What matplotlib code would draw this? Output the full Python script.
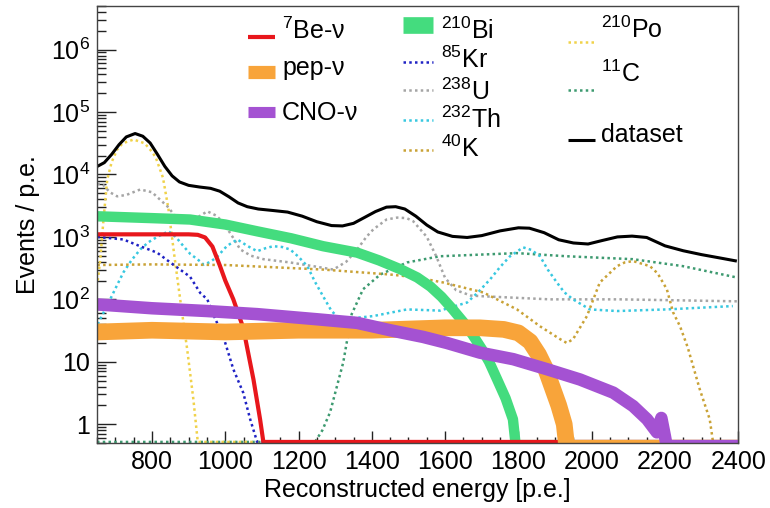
import numpy as np
import matplotlib
matplotlib.use('Agg')
import matplotlib.pyplot as plt
from matplotlib.lines import Line2D
from matplotlib.ticker import FixedLocator, FixedFormatter, LogLocator, MultipleLocator, NullFormatter

plt.rcParams['font.family'] = ['Liberation Sans', 'DejaVu Sans']
plt.rcParams['mathtext.fontset'] = 'custom'
plt.rcParams['mathtext.rm'] = 'Liberation Sans'
plt.rcParams['mathtext.it'] = 'Liberation Sans:italic'
plt.rcParams['mathtext.bf'] = 'Liberation Sans:bold'

# ---------------- data ----------------
data_E = [651, 670, 690, 710, 730, 754, 775, 795, 815, 835, 855, 875, 900, 930, 960, 985, 1010,
          1035, 1060, 1090, 1130, 1170, 1210, 1250, 1290, 1320, 1350, 1380, 1410, 1440, 1465,
          1490, 1520, 1550, 1580, 1620, 1660, 1700, 1750, 1800, 1830, 1870, 1910, 1950, 1990,
          2030, 2070, 2110, 2150, 2200, 2250, 2300, 2350, 2396]
data_val = [13500, 15500, 21000, 30000, 40000, 45300, 41000, 32000, 21000, 13500, 9500, 7600,
            6700, 6300, 6000, 5400, 4400, 3500, 3050, 2800, 2650, 2500, 2150, 1750, 1520, 1500,
            1650, 2050, 2550, 3000, 3050, 2800, 2150, 1550, 1200, 1020, 980, 1050, 1250, 1400,
            1380, 1170, 900, 800, 770, 880, 1000, 1030, 980, 720, 600, 520, 460, 410]

be7_E = [651, 900, 925, 945, 965, 985, 1000, 1022, 1049, 1077, 1095, 1104, 2400]
be7_val = [1100, 1100, 1080, 980, 700, 350, 200, 100, 35, 5.2, 1.2, 0, 0]

pep_E = [651, 800, 1000, 1200, 1400, 1600, 1695, 1760, 1800, 1832, 1855, 1875, 1893, 1910,
         1925, 1935, 2400]
pep_val = [30, 32, 30, 32, 32, 35, 35, 33, 29, 21, 13, 7.5, 3.8, 2.0, 1.0, 0, 0]

cno_E = [651, 800, 950, 1087, 1250, 1360, 1450, 1540, 1605, 1695, 1786, 1878, 1968, 2059,
         2113, 2151, 2178, 2190, 2200, 2210, 2400]
cno_val = [83, 72, 65, 58, 48, 42, 32, 25, 20, 14, 11, 7.6, 5.2, 3.2, 1.95, 1.2, 0.74, 1.26,
           0.63, 0, 0]

bi210_E = [651, 800, 904, 1000, 1087, 1180, 1267, 1360, 1420, 1480, 1524, 1560, 1590, 1620,
           1650, 1675, 1700, 1720, 1742, 1765, 1785, 1796, 2400]
bi210_val = [2140, 2000, 1900, 1580, 1230, 950, 710, 560, 420, 300, 224, 160, 110, 70, 43, 27,
             16, 10, 5.2, 2.6, 1.2, 0, 0]

kr85_E = [651, 722, 765, 814, 858, 904, 932, 951, 968, 995, 1022, 1049, 1068, 1087, 2400]
kr85_val = [1000, 910, 720, 560, 360, 230, 126, 100, 56, 25, 7.6, 3.2, 1.2, 0, 0]

u238_E = [651, 665, 685, 705, 730, 768, 800, 842, 865, 886, 915, 951, 975, 995, 1020, 1041,
          1070, 1104, 1177, 1240, 1295, 1330, 1360, 1385, 1404, 1440, 1469, 1495, 1513, 1550,
          1575, 1600, 1630, 1670, 1704, 1886, 2077, 2396]
u238_val = [7100, 7000, 5200, 4470, 4700, 5750, 5200, 3090, 2100, 1700, 1900, 2570, 2200, 1700,
            1000, 630, 500, 440, 390, 340, 300, 400, 630, 1000, 1320, 1900, 2040, 2000, 1780,
            1000, 500, 220, 140, 115, 112, 100, 100, 93]

th232_E = [652, 670, 686, 705, 722, 745, 768, 790, 814, 845, 865, 886, 905, 924, 941, 960, 979,
           1005, 1033, 1060, 1087, 1110, 1131, 1155, 1177, 1200, 1224, 1245, 1267, 1290, 1314,
           1350, 1404, 1496, 1586, 1660, 1690, 1723, 1750, 1777, 1813, 1835, 1859, 1880, 1905,
           1925, 1949, 1995, 2069, 2205, 2385]
th232_val = [40, 65, 100, 170, 270, 430, 630, 820, 1000, 1230, 1000, 710, 530, 440, 360, 400,
             490, 720, 910, 720, 590, 660, 710, 690, 630, 480, 340, 190, 112, 65, 48, 50, 54,
             69, 66, 89, 130, 210, 330, 490, 680, 620, 490, 300, 186, 130, 100, 69, 65, 69, 78]

k40_E = [651, 800, 1000, 1267, 1450, 1524, 1595, 1704, 1796, 1859, 1914, 1932, 1949, 1987,
         2022, 2069, 2090, 2113, 2159, 2180, 2205, 2222, 2241, 2262, 2295, 2322, 2331, 2400]
k40_val = [355, 363, 355, 300, 250, 224, 186, 129, 69, 37, 23, 20, 23, 54, 186, 340, 390, 410,
           340, 260, 145, 62, 37, 17, 3.6, 1.2, 0, 0]

po210_E = [652, 659, 668, 678, 690, 705, 720, 750, 780, 795, 810, 830, 845, 860, 877, 896, 913,
           925, 2400]
po210_val = [200, 440, 2000, 8300, 15800, 25100, 31600, 36300, 31600, 25100, 19000, 8900, 2800,
             560, 100, 16, 2.5, 0, 0]

c11_E = [650, 1245, 1265, 1286, 1322, 1345, 1376, 1423, 1496, 1586, 1796, 1932, 2112, 2249, 2396]
c11_val = [0, 0, 0.8, 1.55, 9.8, 58, 145, 250, 390, 490, 550, 490, 440, 340, 224]

xticks = [800, 1000, 1200, 1400, 1600, 1800, 2000, 2200, 2400]
yticks = [1, 10, 1e2, 1e3, 1e4, 1e5, 1e6]
ytick_labels = ['1', '10', r'$10^{2}$', r'$10^{3}$', r'$10^{4}$', r'$10^{5}$', r'$10^{6}$']

labels = {
    'be7': r'$^{7}$Be-ν', 'pep': 'pep-ν', 'cno': 'CNO-ν',
    'bi210': r'$^{210}$Bi', 'kr85': r'$^{85}$Kr', 'u238': r'$^{238}$U',
    'th232': r'$^{232}$Th', 'k40': r'$^{40}$K',
    'po210': r'$^{210}$Po', 'c11': r'$^{11}$C', 'data': 'dataset',
}

# ---------------- figure ----------------
YMIN, YMAX = 0.5, 5e6
FLOOR = 0.52   # empty bins are drawn along the bottom of the frame, as in the original
BELOW = 0.3    # lets thick bands run out through the lower frame edge (clipped)

fig = plt.figure(figsize=(7.7, 5.08), dpi=100)
ax = fig.add_axes([97 / 770, 65 / 508, 641.3 / 770, 437 / 508])

dot = (0, (1.0, 1.3))
styles = {
    'u238': dict(color='#a5a5a5', lw=1.8, ls=dot),
    'th232': dict(color='#38c8e0', lw=1.8, ls=dot),
    'k40': dict(color='#c9a236', lw=1.8, ls=dot),
    'po210': dict(color='#f0d24a', lw=1.8, ls=dot),
    'c11': dict(color='#3d9a70', lw=1.8, ls=dot),
    'kr85': dict(color='#1f22c4', lw=1.8, ls=dot),
    'bi210': dict(color='#44dc7e', lw=7.5, ls='-'),
    'be7': dict(color='#e8171c', lw=3.0, ls='-'),
    'pep': dict(color='#f8a43a', lw=12, ls='-'),
    'cno': dict(color='#a452d2', lw=9, ls='-'),
    'data': dict(color='black', lw=2.2, ls='-'),
}
series = [
    ('c11', c11_E, c11_val), ('po210', po210_E, po210_val), ('u238', u238_E, u238_val),
    ('th232', th232_E, th232_val), ('k40', k40_E, k40_val), ('kr85', kr85_E, kr85_val),
    ('bi210', bi210_E, bi210_val), ('be7', be7_E, be7_val), ('pep', pep_E, pep_val),
    ('cno', cno_E, cno_val), ('data', data_E, data_val),
]
for key, xs, ys in series:
    st = styles[key]
    xs = np.asarray(xs, dtype=float)
    ys = np.asarray(ys, dtype=float)
    zero = ys <= 0
    thick = st['lw'] > 3
    main = np.where(zero, BELOW if thick else FLOOR, ys)
    ax.plot(xs, main, color=st['color'], lw=st['lw'], ls=st['ls'],
            solid_joinstyle='round', solid_capstyle='butt')
    if thick and zero.any():
        # empty bins of a band: thin line along the lower edge of the frame
        ax.plot(xs, np.where(zero, FLOOR, np.nan), color=st['color'], lw=3.0,
                solid_capstyle='butt')

ax.set_yscale('log')
ax.set_xlim(650, 2400)
ax.set_ylim(YMIN, YMAX)
ax.yaxis.set_major_locator(FixedLocator(yticks))
ax.yaxis.set_major_formatter(FixedFormatter(ytick_labels))
ax.yaxis.set_minor_locator(LogLocator(base=10, subs=np.arange(2, 10) * 1.0, numticks=20))
ax.yaxis.set_minor_formatter(NullFormatter())
ax.xaxis.set_major_locator(FixedLocator(xticks))
ax.xaxis.set_minor_locator(MultipleLocator(50))

ax.tick_params(which='both', direction='in', top=False, right=False, colors='#222222',
               labelcolor='black')
ax.tick_params(axis='y', which='major', length=13.5, width=1, labelsize=18, pad=5)
ax.tick_params(axis='y', which='minor', length=6.5, width=1)
ax.tick_params(axis='x', which='major', length=8.5, width=1, labelsize=18, pad=5)
ax.tick_params(axis='x', which='minor', length=4, width=1)
for sp in ax.spines.values():
    sp.set_color('#444444')
    sp.set_linewidth(1.0)

ax.set_xlabel('Reconstructed energy [p.e.]', fontsize=18, labelpad=3)
ax.set_ylabel('Events / p.e.', fontsize=18, labelpad=8)

# ---------------- legend (three columns, ROOT style) ----------------
def fx(px):
    return px / 770


def fy(py):
    return 1 - py / 508


legend_cols = [
    dict(hx=(248, 275), tx=282,
         rows=[('be7', 37, 39, 3.0), ('pep', 72, 75, 9.5), ('cno', 112, 120, 8)]),
    dict(hx=(403, 433), tx=441,
         rows=[('bi210', 25, 39, 12), ('kr85', 62, 68, 1.8), ('u238', 90, 100, 1.8),
               ('th232', 120, 128, 1.8), ('k40', 150, 157, 1.8)]),
    dict(hx=(568, 595), tx=601,
         rows=[('po210', 42, 38, 1.8), ('c11', 90, 82, 1.8), ('data', 140, 142, 2.2)]),
]
for col in legend_cols:
    x0, x1 = col['hx']
    for key, hy, base, hlw in col['rows']:
        st = styles[key]
        fig.add_artist(Line2D([fx(x0), fx(x1)], [fy(hy), fy(hy)], transform=fig.transFigure,
                              color=st['color'], lw=hlw, ls=st['ls'], solid_capstyle='butt'))
        fig.text(fx(col['tx']), fy(base), labels[key], fontsize=18, ha='left', va='baseline')

fig.savefig('out.png', dpi=100, facecolor='white')
